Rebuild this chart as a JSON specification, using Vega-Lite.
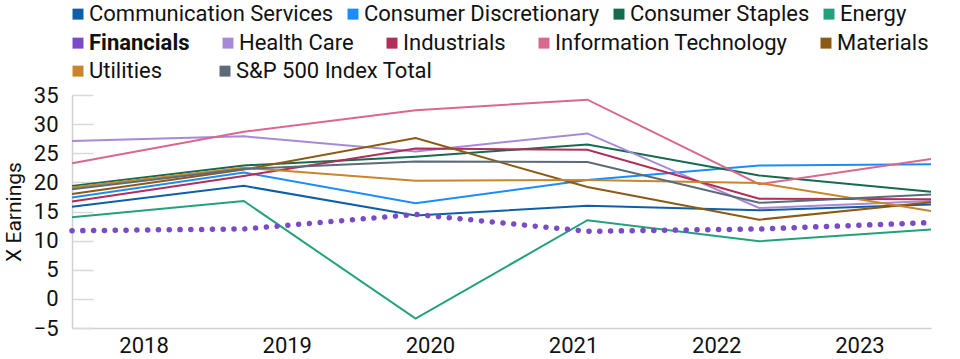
{
  "$schema": "https://vega.github.io/schema/vega-lite/v6.json",
  "width": 859,
  "height": 233,
  "autosize": {"type": "none"},
  "padding": {"left": 72, "top": 95, "right": 29, "bottom": 31},
  "background": "white",
  "config": {
    "view": {"stroke": null},
    "font": "Roboto",
    "legend": {
      "orient": "none",
      "direction": "horizontal",
      "title": null,
      "symbolType": "square",
      "symbolSize": 30,
      "symbolStrokeWidth": 5.5,
      "symbolOpacity": 1,
      "labelFontSize": 22,
      "labelColor": "#111111",
      "labelOffset": 0,
      "labelLimit": 0
    }
  },
  "data": {
    "values": [
      {"sector": "Communication Services", "year": 2018, "pe": 15.8},
      {"sector": "Communication Services", "year": 2019, "pe": 19.4},
      {"sector": "Communication Services", "year": 2020, "pe": 14.3},
      {"sector": "Communication Services", "year": 2021, "pe": 16.0},
      {"sector": "Communication Services", "year": 2022, "pe": 15.2},
      {"sector": "Communication Services", "year": 2023, "pe": 16.2},
      {"sector": "Consumer Discretionary", "year": 2018, "pe": 17.4},
      {"sector": "Consumer Discretionary", "year": 2019, "pe": 21.7},
      {"sector": "Consumer Discretionary", "year": 2020, "pe": 16.4},
      {"sector": "Consumer Discretionary", "year": 2021, "pe": 20.4},
      {"sector": "Consumer Discretionary", "year": 2022, "pe": 22.9},
      {"sector": "Consumer Discretionary", "year": 2023, "pe": 23.1},
      {"sector": "Consumer Staples", "year": 2018, "pe": 19.4},
      {"sector": "Consumer Staples", "year": 2019, "pe": 22.9},
      {"sector": "Consumer Staples", "year": 2020, "pe": 24.4},
      {"sector": "Consumer Staples", "year": 2021, "pe": 26.5},
      {"sector": "Consumer Staples", "year": 2022, "pe": 21.2},
      {"sector": "Consumer Staples", "year": 2023, "pe": 18.4},
      {"sector": "Energy", "year": 2018, "pe": 14.0},
      {"sector": "Energy", "year": 2019, "pe": 16.8},
      {"sector": "Energy", "year": 2020, "pe": -3.4},
      {"sector": "Energy", "year": 2021, "pe": 13.5},
      {"sector": "Energy", "year": 2022, "pe": 9.9},
      {"sector": "Energy", "year": 2023, "pe": 11.9},
      {"sector": "Financials", "year": 2018, "pe": 11.7},
      {"sector": "Financials", "year": 2019, "pe": 12.0},
      {"sector": "Financials", "year": 2020, "pe": 14.5},
      {"sector": "Financials", "year": 2021, "pe": 11.6},
      {"sector": "Financials", "year": 2022, "pe": 12.0},
      {"sector": "Financials", "year": 2023, "pe": 13.1},
      {"sector": "Health Care", "year": 2018, "pe": 27.1},
      {"sector": "Health Care", "year": 2019, "pe": 27.9},
      {"sector": "Health Care", "year": 2020, "pe": 25.3},
      {"sector": "Health Care", "year": 2021, "pe": 28.4},
      {"sector": "Health Care", "year": 2022, "pe": 15.6},
      {"sector": "Health Care", "year": 2023, "pe": 16.8},
      {"sector": "Industrials", "year": 2018, "pe": 16.7},
      {"sector": "Industrials", "year": 2019, "pe": 21.1},
      {"sector": "Industrials", "year": 2020, "pe": 25.8},
      {"sector": "Industrials", "year": 2021, "pe": 25.6},
      {"sector": "Industrials", "year": 2022, "pe": 17.2},
      {"sector": "Industrials", "year": 2023, "pe": 17.1},
      {"sector": "Information Technology", "year": 2018, "pe": 23.3},
      {"sector": "Information Technology", "year": 2019, "pe": 28.7},
      {"sector": "Information Technology", "year": 2020, "pe": 32.4},
      {"sector": "Information Technology", "year": 2021, "pe": 34.2},
      {"sector": "Information Technology", "year": 2022, "pe": 19.7},
      {"sector": "Information Technology", "year": 2023, "pe": 24.0},
      {"sector": "Materials", "year": 2018, "pe": 18.0},
      {"sector": "Materials", "year": 2019, "pe": 22.2},
      {"sector": "Materials", "year": 2020, "pe": 27.6},
      {"sector": "Materials", "year": 2021, "pe": 19.2},
      {"sector": "Materials", "year": 2022, "pe": 13.6},
      {"sector": "Materials", "year": 2023, "pe": 16.6},
      {"sector": "Utilities", "year": 2018, "pe": 19.1},
      {"sector": "Utilities", "year": 2019, "pe": 22.5},
      {"sector": "Utilities", "year": 2020, "pe": 20.3},
      {"sector": "Utilities", "year": 2021, "pe": 20.4},
      {"sector": "Utilities", "year": 2022, "pe": 19.9},
      {"sector": "Utilities", "year": 2023, "pe": 15.1},
      {"sector": "S&P 500 Index Total", "year": 2018, "pe": 18.8},
      {"sector": "S&P 500 Index Total", "year": 2019, "pe": 22.3},
      {"sector": "S&P 500 Index Total", "year": 2020, "pe": 23.6},
      {"sector": "S&P 500 Index Total", "year": 2021, "pe": 23.5},
      {"sector": "S&P 500 Index Total", "year": 2022, "pe": 16.5},
      {"sector": "S&P 500 Index Total", "year": 2023, "pe": 17.9}
    ]
  },
  "encoding": {
    "x": {
      "field": "year",
      "type": "quantitative",
      "scale": {"domain": [2018, 2023], "nice": false, "zero": false},
      "axis": {
        "values": [2018.4167, 2019.25, 2020.0833, 2020.9167, 2021.75, 2022.5833],
        "labelExpr": "'' + round(datum.value)",
        "ticks": false,
        "grid": false,
        "title": null,
        "domainColor": "#D0D0D0",
        "domainWidth": 1.5,
        "labelFontSize": 22,
        "labelColor": "#111111",
        "labelPadding": 7,
        "labelFlush": false
      }
    },
    "y": {
      "field": "pe",
      "type": "quantitative",
      "scale": {"domain": [-5, 35], "nice": false, "zero": false},
      "axis": {
        "values": [-5, 0, 5, 10, 15, 20, 25, 30, 35],
        "grid": false,
        "ticks": true,
        "tickSize": -21,
        "tickColor": "#D9D9D9",
        "tickWidth": 1.5,
        "domainColor": "#D0D0D0",
        "domainWidth": 1.5,
        "labelFontSize": 22,
        "labelColor": "#111111",
        "labelPadding": 35,
        "title": "X Earnings",
        "titleFontSize": 21,
        "titleFontWeight": "normal",
        "titleColor": "#111111",
        "titlePadding": 9
      }
    }
  },
  "layer": [
    {
      "transform": [{"filter": {"field": "sector", "oneOf": ["Communication Services", "Consumer Discretionary", "Consumer Staples", "Energy"]}}],
      "mark": {"type": "line", "strokeWidth": 2},
      "encoding": {
        "color": {
          "field": "sector",
          "type": "nominal",
          "scale": {
            "domain": ["Communication Services", "Consumer Discretionary", "Consumer Staples", "Energy"],
            "range": ["#0F5FA8", "#1A8CFF", "#156B4E", "#22A17B"]
          },
          "legend": {"legendX": -5, "legendY": -92, "columnPadding": 5}
        }
      }
    },
    {
      "transform": [{"filter": {"field": "sector", "oneOf": ["Financials", "Health Care", "Industrials", "Information Technology", "Materials"]}}],
      "encoding": {
        "color": {
          "field": "sector",
          "type": "nominal",
          "scale": {
            "domain": ["Financials", "Health Care", "Industrials", "Information Technology", "Materials"],
            "range": ["#7B4AC7", "#A68AD8", "#B02E5A", "#D9688F", "#8C5A14"]
          },
          "legend": {
            "legendX": -5,
            "legendY": -63,
            "columnPadding": 24,
            "encode": {"labels": {"update": {"fontWeight": {"signal": "datum.label === 'Financials' ? 'bold' : 'normal'"}}}}
          }
        }
      },
      "layer": [
        {
          "transform": [{"filter": "datum.sector !== 'Financials'"}],
          "mark": {"type": "line", "strokeWidth": 2}
        },
        {
          "transform": [{"filter": "datum.sector === 'Financials'"}],
          "mark": {"type": "line", "strokeWidth": 5.5, "strokeDash": [0.1, 10.7], "strokeCap": "round"}
        }
      ]
    },
    {
      "transform": [{"filter": {"field": "sector", "oneOf": ["Utilities", "S&P 500 Index Total"]}}],
      "mark": {"type": "line", "strokeWidth": 2},
      "encoding": {
        "color": {
          "field": "sector",
          "type": "nominal",
          "scale": {
            "domain": ["Utilities", "S&P 500 Index Total"],
            "range": ["#C9852B", "#5B6B78"]
          },
          "legend": {"legendX": -5, "legendY": -35, "columnPadding": 48}
        }
      }
    }
  ],
  "resolve": {"scale": {"color": "independent"}}
}
